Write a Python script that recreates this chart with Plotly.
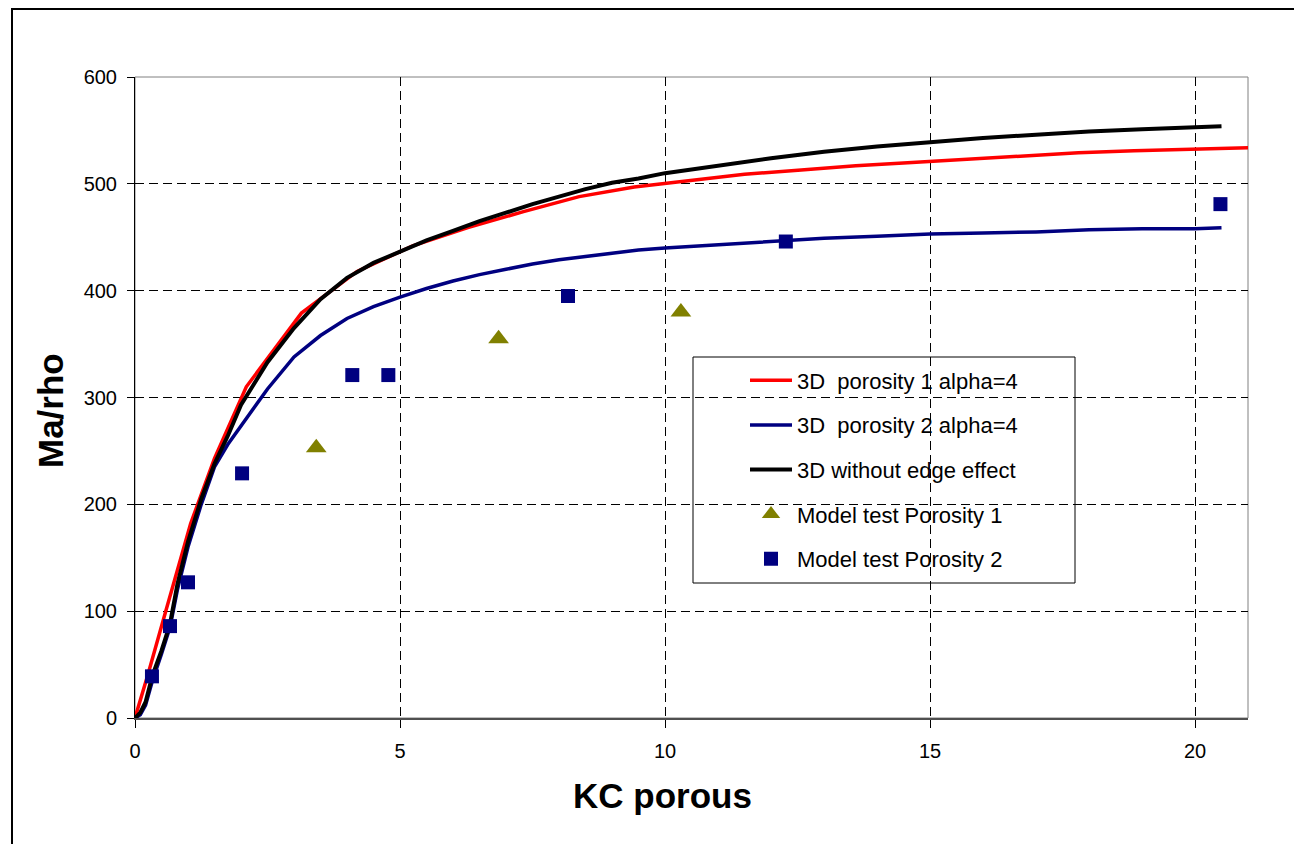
import plotly.graph_objects as go

# ---- data ----
red_x = [0, 0.24, 0.58, 1.05, 1.5, 2.1, 3.14, 4.19, 5.24, 6.28, 7.33, 8.38, 9.42, 10.47,
         11.5, 12.57, 13.6, 14.66, 15.7, 16.75, 17.8, 18.85, 19.9, 21.15]
red_y = [0, 40, 100, 182, 243, 310, 379, 418, 442, 459, 474, 488, 497, 503,
         509, 513, 517, 520, 523, 526, 529, 531, 532, 534]

blue_x = [0, 0.1, 0.2, 0.33, 0.5, 0.66, 0.8, 1.0, 1.25, 1.5, 1.75, 2.0, 2.5, 3.0, 3.5, 4.0,
          4.5, 5.0, 5.5, 6.0, 6.5, 7.0, 7.5, 8.0, 8.5, 9.0, 9.5, 10, 11, 12, 13, 14, 15,
          16, 17, 18, 19, 20, 20.5]
blue_y = [0, 3, 12, 35, 60, 85, 120, 160, 200, 235, 256, 273, 308, 338, 358, 374,
          385, 394, 402, 409, 415, 420, 425, 429, 432, 435, 438, 440, 443, 446, 449, 451, 453,
          454, 455, 457, 458, 458, 459]

black_x = [0, 0.1, 0.2, 0.33, 0.5, 0.66, 0.8, 1.0, 1.25, 1.5, 1.75, 2.0, 2.5, 3.0, 3.5, 4.0,
           4.5, 5.0, 5.5, 6.0, 6.5, 7.0, 7.5, 8.0, 8.5, 9.0, 9.5, 10, 11, 12, 13, 14, 15,
           16, 17, 18, 19, 20, 20.5]
black_y = [0, 5, 15, 40, 63, 88, 125, 165, 205, 238, 264, 293, 333, 365, 392, 412,
           426, 437, 447, 456, 465, 473, 481, 488, 495, 501, 505, 510, 517, 524, 530, 535, 539,
           543, 546, 549, 551, 553, 554]

tri_x = [3.42, 6.86, 10.30]
tri_y = [253, 355, 380]

sq_x = [0.32, 0.66, 1.0, 2.02, 4.10, 4.78, 8.17, 12.28, 20.48]
sq_y = [39, 86, 127, 229, 321, 321, 395, 446, 481]

x_ticks = [0, 5, 10, 15, 20]
y_ticks = [0, 100, 200, 300, 400, 500, 600]

names = ["3D\u00a0 porosity 1 alpha=4", "3D\u00a0 porosity 2 alpha=4",
         "3D without edge effect", "Model test Porosity 1", "Model test Porosity 2"]

fig = go.Figure()
fig.add_trace(go.Scatter(x=red_x, y=red_y, mode="lines", name=names[0],
                         line=dict(color="#FF0000", width=3.5), legendgroup="a"))
fig.add_trace(go.Scatter(x=blue_x, y=blue_y, mode="lines", name=names[1],
                         line=dict(color="#000080", width=3.5), legendgroup="b"))
fig.add_trace(go.Scatter(x=black_x, y=black_y, mode="lines", name=names[2],
                         line=dict(color="#000000", width=4), legendgroup="c"))
fig.add_trace(go.Scatter(x=tri_x, y=tri_y, mode="markers", name=names[3],
                         marker=dict(symbol="triangle-up", color="#808000", size=18),
                         legendgroup="d"))
fig.add_trace(go.Scatter(x=sq_x, y=sq_y, mode="markers", name=names[4],
                         marker=dict(symbol="square", color="#000080", size=14),
                         legendgroup="e"))

# page has an 8px body margin
OFF = 8
L, T, R, B = 135, 77, 1248, 718
W, H = 1302 - OFF, 844 - OFF
pw, ph = R - L, B - T

def px(x):
    return (x - L) / pw

def py(y):
    return (B - y) / ph

fig.update_layout(
    width=W, height=H,
    margin=dict(l=L - OFF, r=1302 - R, t=T - OFF, b=844 - B),
    paper_bgcolor="white", plot_bgcolor="white",
    font=dict(family="Arial, Liberation Sans, sans-serif", color="black", size=20),
    showlegend=True,
    legend=dict(x=px(745), y=py(359.5), xanchor="left", yanchor="top",
                bgcolor="rgba(0,0,0,0)", borderwidth=0, itemwidth=42,
                font=dict(size=22), tracegroupgap=13, traceorder="grouped"),
    xaxis=dict(range=[0, 21], tickvals=x_ticks, ticks="outside", ticklen=8,
               tickcolor="black", showline=True, linecolor="#505050", linewidth=2,
               showgrid=True, gridcolor="black", griddash="9px,5px", gridwidth=1,
               zeroline=False, tickfont=dict(size=20), ticklabelstandoff=6),
    yaxis=dict(range=[0, 600], tickvals=y_ticks, ticks="outside", ticklen=7,
               tickcolor="black", showline=True, linecolor="black", linewidth=1,
               showgrid=True, gridcolor="black", griddash="9px,5px", gridwidth=1,
               zeroline=False, tickfont=dict(size=20), ticklabelstandoff=6),
    shapes=[
        dict(type="rect", xref="paper", yref="paper", x0=0, x1=1, y0=0, y1=1,
             line=dict(color="#808080", width=1), layer="below"),
        dict(type="rect", xref="paper", yref="paper", x0=px(693), x1=px(1075),
             y0=py(583), y1=py(357), line=dict(color="black", width=1),
             fillcolor="white", layer="between"),
        dict(type="rect", xref="paper", yref="paper", x0=px(12), x1=px(1320),
             y0=py(860), y1=py(9), line=dict(color="black", width=2), layer="above"),
    ],
    annotations=[
        dict(text="<b>KC porous</b>", xref="paper", yref="paper", x=px(662), y=py(795),
             xanchor="center", yanchor="middle", showarrow=False, font=dict(size=35)),
        dict(text="<b>Ma/rho</b>", xref="paper", yref="paper", x=px(50), y=py(411),
             xanchor="center", yanchor="middle", showarrow=False, textangle=-90,
             font=dict(size=35)),
    ],
)

fig.write_html("out.html")
